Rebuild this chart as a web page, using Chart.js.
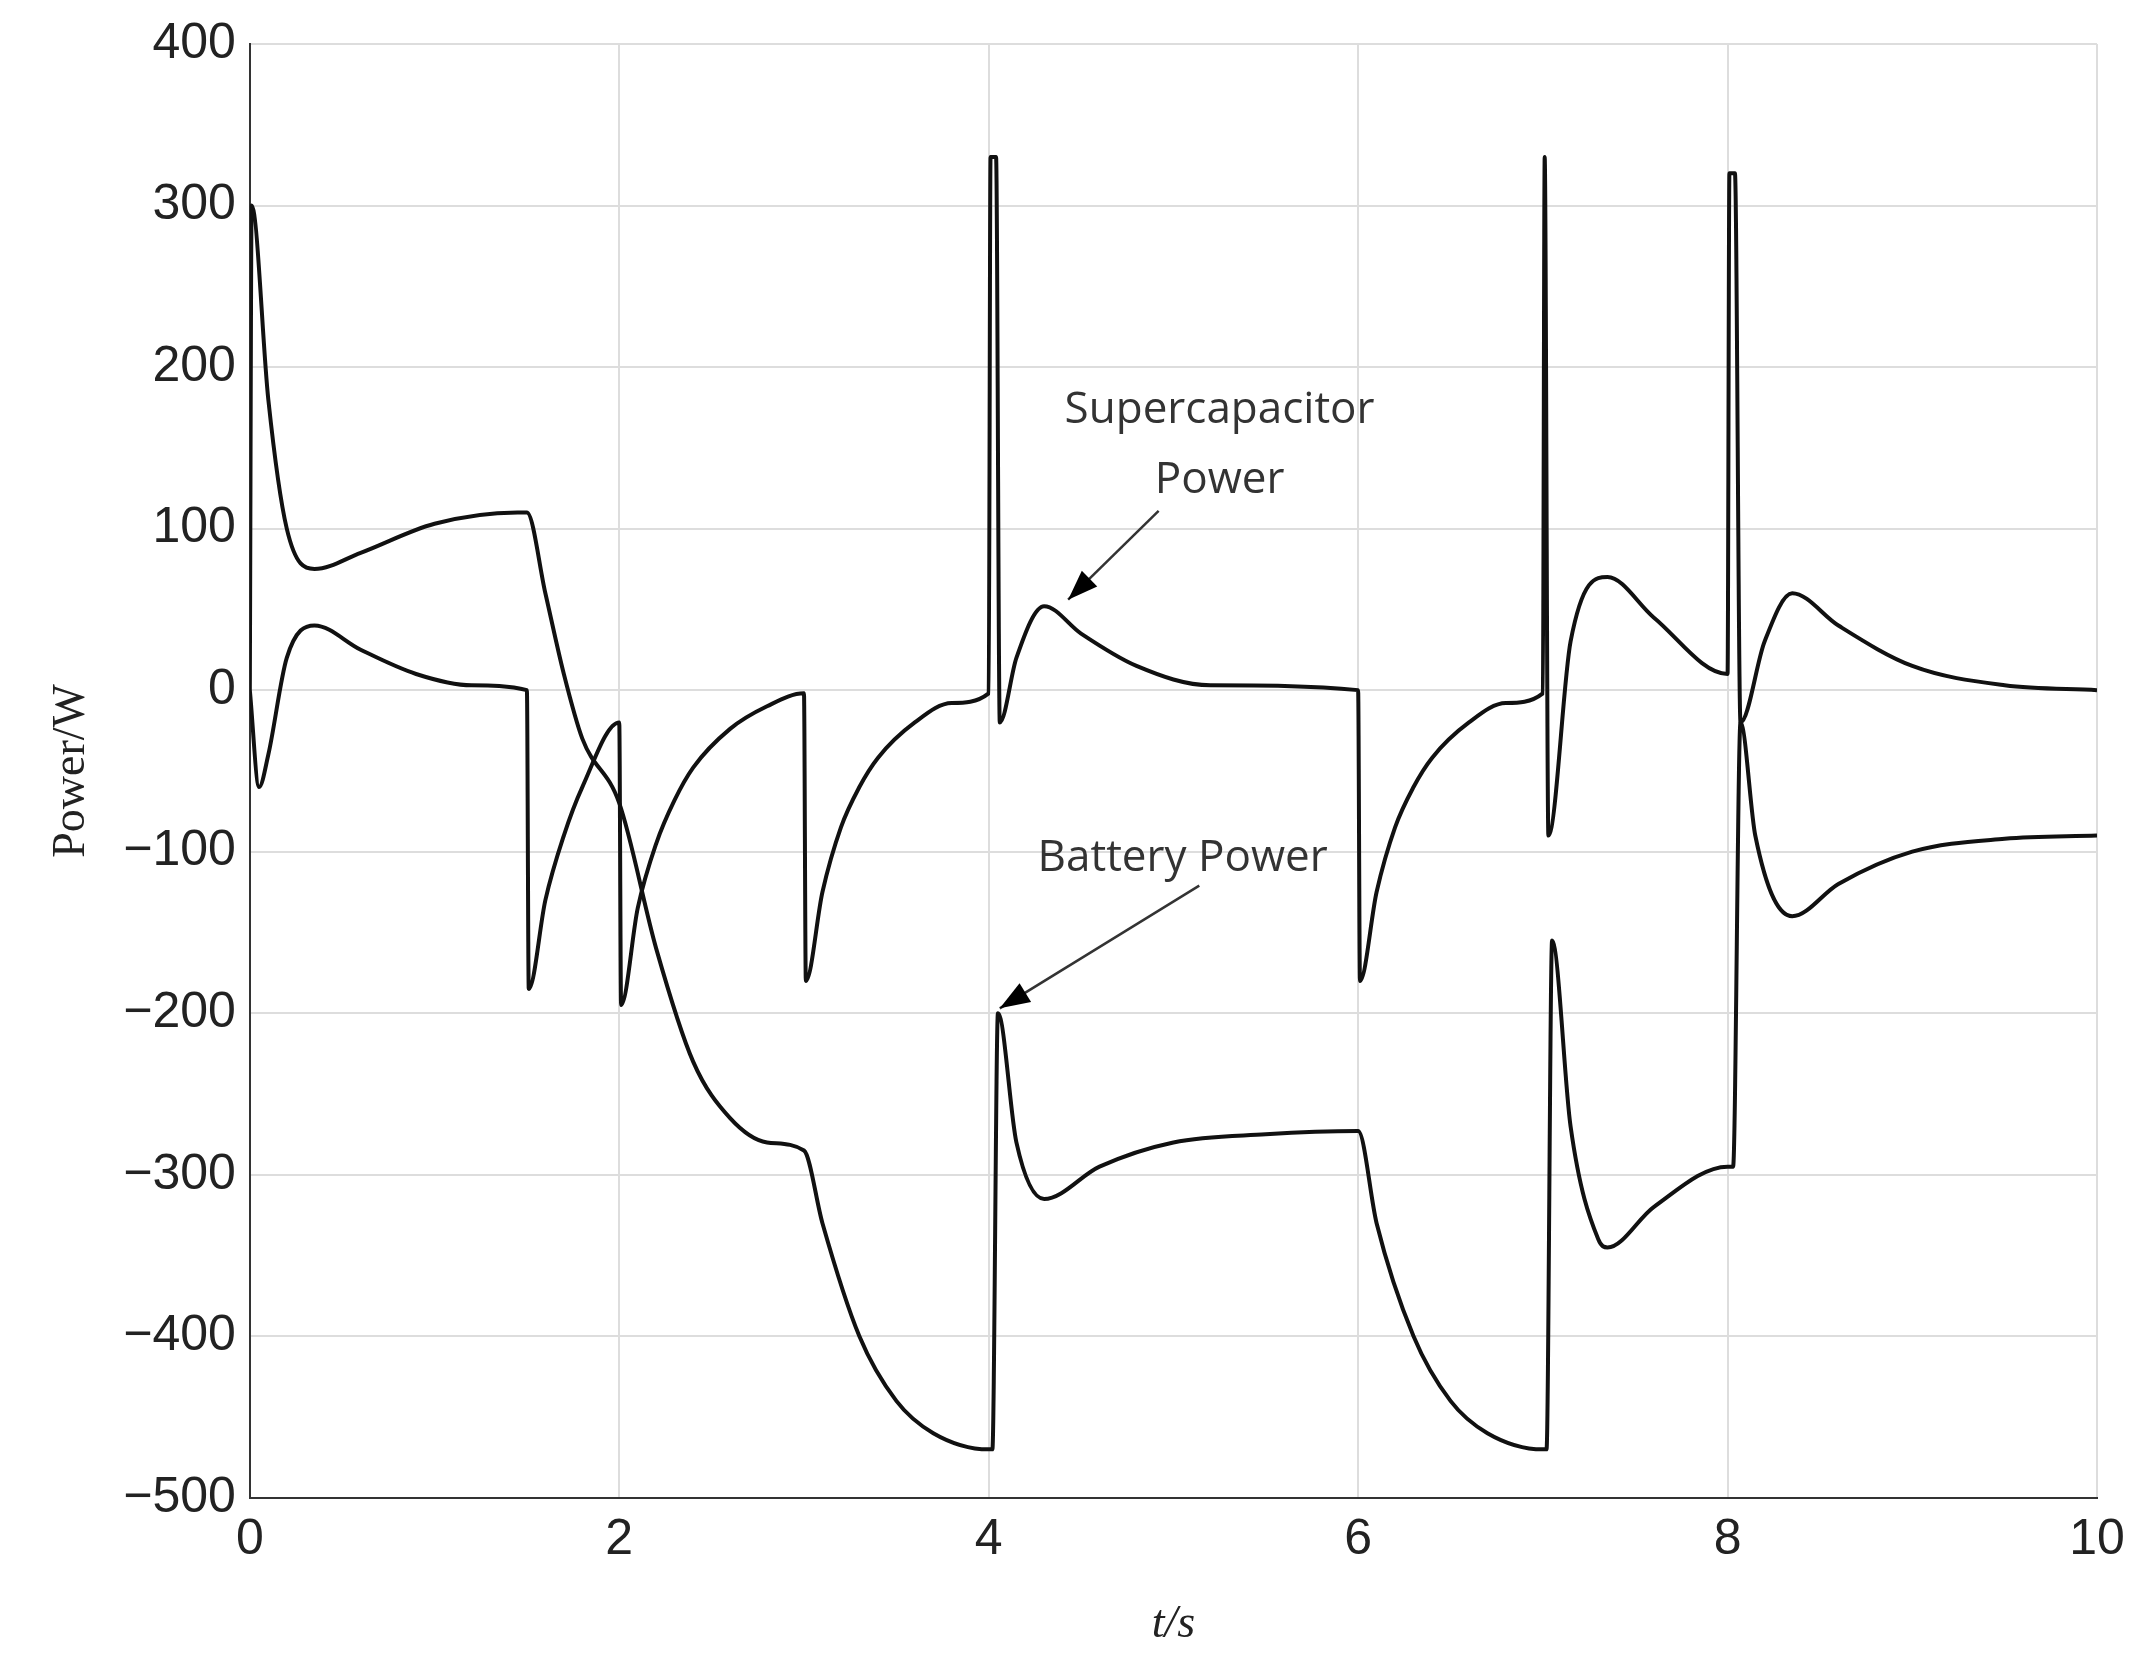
<!DOCTYPE html>
<html><head><meta charset="utf-8">
<script src="https://cdn.jsdelivr.net/npm/chart.js@4"></script>
<style>html,body{margin:0;background:#fff}#w{width:2139px;height:1677px}</style>
</head><body><div id="w"><canvas id="c"></canvas></div>
<script>
const batteryT=[0,0.01,0.1,0.2,0.35,0.6,1.0,1.45,1.5,1.6,1.7,1.8,2.0,2.2,2.4,2.6,2.8,3.0,3.1,3.3,3.5,3.7,4.0,4.02,4.05,4.15,4.3,4.6,5.0,5.5,6.0,6.1,6.3,6.5,6.7,7.0,7.02,7.05,7.15,7.3,7.35,7.6,8.0,8.03,8.07,8.15,8.35,8.6,9.0,9.5,10];
const batteryP=[0,300,180,100,75,85,103,110,110,60,10,-30,-70,-160,-230,-265,-280,-285,-330,-400,-440,-460,-470,-470,-200,-280,-315,-295,-280,-275,-273,-330,-400,-440,-460,-470,-470,-155,-270,-340,-345,-320,-295,-295,-20,-90,-140,-120,-100,-92,-90];
const capT=[0,0.05,0.1,0.2,0.35,0.6,0.9,1.2,1.5,1.51,1.6,1.7,1.8,2.0,2.01,2.1,2.2,2.3,2.4,2.6,2.8,3.0,3.01,3.1,3.2,3.3,3.4,3.6,3.8,4.0,4.01,4.04,4.06,4.15,4.3,4.5,4.8,5.2,6.0,6.01,6.1,6.2,6.3,6.4,6.6,6.8,7.0,7.01,7.03,7.15,7.35,7.6,8.0,8.01,8.04,8.07,8.2,8.35,8.6,9.0,9.5,10];
const capP=[0,-60,-40,20,40,25,10,3,0,-185,-130,-90,-60,-20,-195,-135,-95,-68,-48,-24,-10,-2,-180,-125,-85,-60,-42,-20,-8,-2,330,330,-20,20,52,35,15,3,0,-180,-125,-85,-60,-42,-20,-8,-2,330,-90,30,70,45,10,320,320,-20,30,60,40,15,3,0];
const xTicks=[0,2,4,6,8,10];
const yTicks=[400,300,200,100,0,-100,-200,-300,-400,-500];
const notes=[{text:["Supercapacitor","Power"],x:5.25,y:173,ax:4.92,ay:111,bx:4.43,by:56},
             {text:["Battery Power"],x:5.05,y:-104,ax:5.14,ay:-121,bx:4.06,by:-197}];
const pts=(t,p)=>t.map((v,i)=>({x:v,y:p[i]}));
const tickFmt=v=>v<0?'\u2212'+(-v):String(v);
const notePlugin={id:'notes',afterDatasetsDraw(ch){
  const c=ch.ctx,xs=ch.scales.x,ys=ch.scales.y;
  c.save();c.fillStyle='#333';c.strokeStyle='#333';c.font='44px "Open Sans"';c.textAlign='center';c.textBaseline='middle';
  notes.forEach(n=>{
    const x=xs.getPixelForValue(n.x),y=ys.getPixelForValue(n.y);
    if(n.text.length===2){c.fillText(n.text[0],x,y);c.fillText(n.text[1],x,y+70);}else c.fillText(n.text[0],x,y);
    const ax=xs.getPixelForValue(n.ax),ay=ys.getPixelForValue(n.ay),bx=xs.getPixelForValue(n.bx),by=ys.getPixelForValue(n.by);
    c.lineWidth=2.5;c.beginPath();c.moveTo(ax,ay);c.lineTo(bx,by);c.stroke();
    const a=Math.atan2(by-ay,bx-ax),L=30,W=11;
    c.beginPath();c.moveTo(bx,by);
    c.lineTo(bx-L*Math.cos(a)+W*Math.sin(a),by-L*Math.sin(a)-W*Math.cos(a));
    c.lineTo(bx-L*Math.cos(a)-W*Math.sin(a),by-L*Math.sin(a)+W*Math.cos(a));c.closePath();c.fillStyle='#000';c.fill();c.fillStyle='#333';
  });
  c.restore();
}};
const ds=(label,d)=>({label,data:d,borderColor:'#111',borderWidth:4,pointRadius:0,cubicInterpolationMode:'monotone',fill:false});
new Chart(document.getElementById('c'),{type:'line',
 data:{datasets:[ds('Battery Power',pts(batteryT,batteryP)),ds('Supercapacitor Power',pts(capT,capP))]},
 options:{responsive:true,maintainAspectRatio:false,animation:false,
  layout:{padding:{left:40,right:42,top:30,bottom:20}},
  plugins:{legend:{display:false},tooltip:{enabled:false}},
  scales:{
   x:{type:'linear',min:0,max:10,afterBuildTicks:s=>{s.ticks=xTicks.map(v=>({value:v}))},
     grid:{color:'#ddd',lineWidth:2,drawTicks:false},border:{color:'#333',width:2},
     ticks:{font:{size:50,family:'"Liberation Sans"'},color:'#222',padding:12},
     title:{display:true,text:'t/s',font:{size:46,family:'"Liberation Serif"',style:'italic'},color:'#222',padding:{top:16}}},
   y:{type:'linear',min:-500,max:400,afterBuildTicks:s=>{s.ticks=yTicks.map(v=>({value:v}))},
     grid:{color:'#ddd',lineWidth:2,drawTicks:false},border:{color:'#333',width:2},
     ticks:{font:{size:50,family:'"Liberation Sans"'},color:'#222',padding:14,callback:tickFmt},
     title:{display:true,text:'Power/W',font:{size:46,family:'"Liberation Serif"'},color:'#222',padding:{bottom:10}}}
  }},
 plugins:[notePlugin]});
</script></body></html>
